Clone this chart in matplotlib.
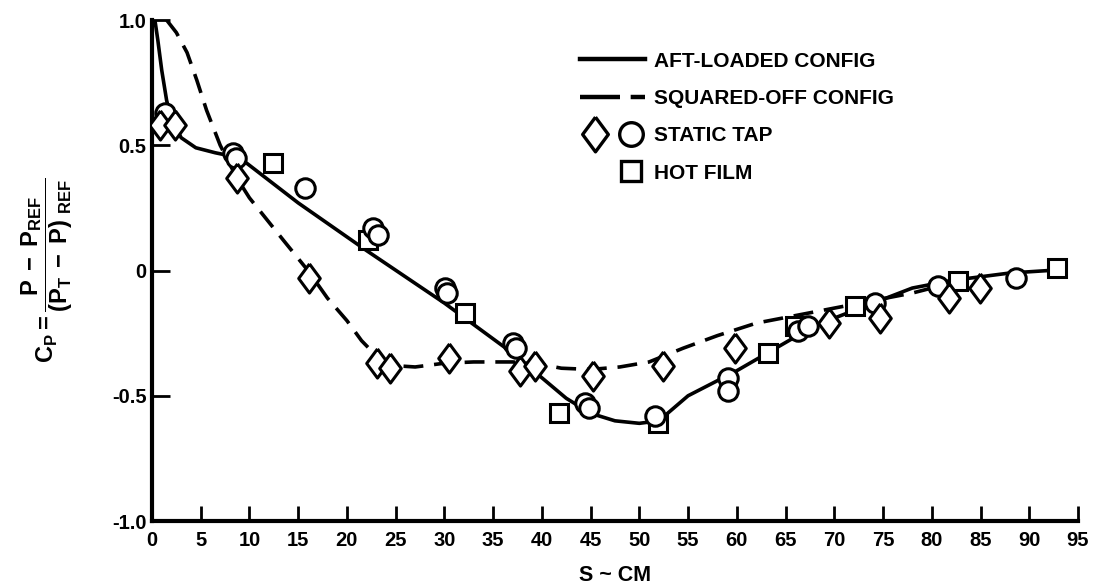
import matplotlib
matplotlib.use("Agg")
import matplotlib.pyplot as plt
from matplotlib.lines import Line2D
from matplotlib.legend_handler import HandlerTuple

plt.rcParams["font.family"] = "Liberation Sans"
plt.rcParams["font.weight"] = "bold"
plt.rcParams["mathtext.fontset"] = "custom"
plt.rcParams["mathtext.rm"] = "Liberation Sans:bold"
plt.rcParams["mathtext.it"] = "Liberation Sans:bold"
plt.rcParams["mathtext.bf"] = "Liberation Sans:bold"
plt.rcParams["mathtext.default"] = "rm"

# faired curves
aft_s = [0.3, 0.6, 1.0, 1.5, 2.0, 3.0, 4.5, 6.5, 9.0, 15, 22, 30, 37, 42.5, 45, 47.5, 50, 52,
         55, 60, 64, 68, 72, 78, 82, 88, 92]
aft_cp = [1.0, 0.92, 0.80, 0.68, 0.60, 0.53, 0.49, 0.47, 0.45, 0.27, 0.08, -0.13, -0.33, -0.51,
          -0.57, -0.60, -0.61, -0.60, -0.50, -0.40, -0.31, -0.22, -0.16, -0.07, -0.04, -0.01, 0.0]

sq_s = [1.5, 2.5, 3.6, 4.6, 5.6, 7.0, 8.7, 10, 13.5, 16, 18, 20, 21.5, 23, 25, 27, 30, 33, 37,
        40, 42, 45, 48, 51, 54.5, 58, 62, 66, 70, 74, 78, 81]
sq_cp = [1.0, 0.95, 0.87, 0.76, 0.64, 0.50, 0.37, 0.29, 0.12, 0.0, -0.11, -0.20, -0.28, -0.34,
         -0.38, -0.385, -0.37, -0.365, -0.365, -0.375, -0.39, -0.395, -0.385, -0.365, -0.31,
         -0.26, -0.21, -0.18, -0.15, -0.12, -0.09, -0.06]

# static taps, aft-loaded (circles)
tap_aft_s = [1.3, 8.3, 8.6, 15.7, 22.7, 23.2, 30.1, 30.3, 37.0, 37.3, 44.4, 44.8, 51.6, 59.1,
             59.1, 66.3, 67.3, 74.2, 80.6, 88.6]
tap_aft_cp = [0.63, 0.47, 0.45, 0.33, 0.17, 0.14, -0.07, -0.09, -0.29, -0.31, -0.53, -0.55,
              -0.58, -0.43, -0.48, -0.24, -0.22, -0.13, -0.06, -0.03]

# static taps, squared-off (diamonds)
tap_sq_s = [0.8, 2.4, 8.7, 16.1, 23.1, 24.4, 30.5, 37.8, 39.3, 45.2, 52.4, 59.8, 69.5, 74.7,
            81.8, 84.9]
tap_sq_cp = [0.58, 0.58, 0.37, -0.03, -0.37, -0.39, -0.35, -0.40, -0.38, -0.42, -0.38, -0.31,
             -0.21, -0.19, -0.11, -0.07]

# hot film gauges (squares)
film_s = [12.4, 22.2, 32.1, 41.8, 51.9, 63.2, 66.0, 72.1, 82.7, 92.8]
film_cp = [0.43, 0.12, -0.17, -0.57, -0.61, -0.33, -0.22, -0.14, -0.04, 0.01]

x_ticks = list(range(0, 100, 5))
y_ticks = [-1.0, -0.5, 0, 0.5, 1.0]
y_ticklabels = ["-1.0", "-0.5", "0", "0.5", "1.0"]

diamond = [(0, 1), (0.74, 0), (0, -1), (-0.74, 0), (0, 1)]

fig = plt.figure(figsize=(11.02, 5.87), dpi=100)
ax = fig.add_axes([0.1379, 0.1124, 0.8403, 0.8535])

ax.plot(aft_s, aft_cp, color="black", lw=2.6, solid_capstyle="round", zorder=2)
ax.plot(sq_s, sq_cp, color="black", lw=2.6, dashes=(5.5, 3.0), zorder=2)

mk = dict(color="black", ls="none", mfc="white", mec="black", mew=2.2, zorder=3)
ax.plot(film_s, film_cp, marker="s", ms=13, **mk)
ax.plot(tap_aft_s, tap_aft_cp, marker="o", ms=14, **mk)
ax.plot(tap_sq_s, tap_sq_cp, marker=diamond, ms=21, **mk)

ax.set_xlim(0, 95)
ax.set_ylim(-1.0, 1.0)
ax.set_xticks(x_ticks)
ax.set_yticks(y_ticks)
ax.set_yticklabels(y_ticklabels)
ax.tick_params(axis="x", direction="in", length=11, width=2, pad=7, labelsize=14.5)
ax.tick_params(axis="y", direction="in", length=13, width=2, pad=4, labelsize=14.5)
for lab in ax.get_xticklabels() + ax.get_yticklabels():
    lab.set_fontweight("bold")

for side in ["top", "right"]:
    ax.spines[side].set_visible(False)
for side in ["left", "bottom"]:
    ax.spines[side].set_linewidth(3)

ax.set_xlabel("S ~ CM", fontsize=15.5, fontweight="bold", labelpad=11)
ax.set_ylabel(r"$C_P = \dfrac{P\;-\;P_{REF}}{(P_T\;-\;P)\;_{REF}}$", fontsize=17)
ax.yaxis.set_label_coords(-0.083, 0.5)

h_aft = Line2D([], [], color="black", lw=3.2)
h_sq = Line2D([], [], color="black", lw=3.2, dashes=(9.0, 2.4))
h_dia = Line2D([], [], ls="none", marker=diamond, ms=25, mfc="white", mec="black", mew=2.4)
h_circ = Line2D([], [], ls="none", marker="o", ms=17, mfc="white", mec="black", mew=2.4)
h_blank = Line2D([], [], ls="none")
h_film = Line2D([], [], ls="none", marker="s", ms=15, mfc="white", mec="black", mew=2.4)

ax.legend([h_aft, h_sq, (h_dia, h_circ), (h_blank, h_film)],
          ["AFT-LOADED CONFIG", "SQUARED-OFF CONFIG", "STATIC TAP", "HOT FILM"],
          handler_map={tuple: HandlerTuple(ndivide=None, pad=0.3)},
          loc="upper left", bbox_to_anchor=(0.462, 0.937), frameon=False,
          prop={"size": 15, "weight": "bold"}, handlelength=3.15, handletextpad=0.43,
          labelspacing=0.88, borderpad=0, borderaxespad=0)

fig.savefig("out.png", dpi=100)
